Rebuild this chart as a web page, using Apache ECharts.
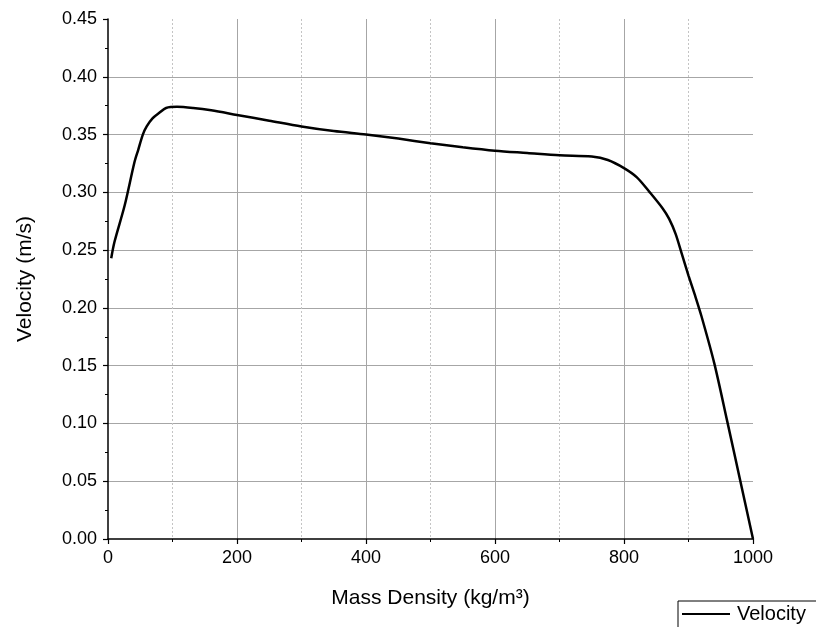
<!DOCTYPE html>
<html>
<head>
<meta charset="utf-8">
<script src="https://cdn.jsdelivr.net/npm/echarts@6/dist/echarts.min.js"></script>
<style>
html,body{margin:0;padding:0;background:#fff;}
#chart{width:816px;height:627px;}
</style>
</head>
<body>
<div id="chart"></div>
<script>
const densities = [5, 10, 26, 41, 47, 54, 60, 69, 80, 90, 107, 132, 160, 200, 250, 300, 350, 400, 450, 500, 550, 600, 650, 700, 750, 775, 800, 820, 840, 860, 870, 880, 890, 900, 910, 920, 940, 960, 980, 1000];
const velocities = [0.243, 0.257, 0.289, 0.326, 0.337, 0.350, 0.357, 0.364, 0.369, 0.373, 0.374, 0.373, 0.371, 0.367, 0.362, 0.357, 0.353, 0.350, 0.3465, 0.3425, 0.339, 0.336, 0.334, 0.332, 0.331, 0.328, 0.321, 0.313, 0.300, 0.286, 0.277, 0.264, 0.246, 0.228, 0.211, 0.193, 0.152, 0.102, 0.051, 0.000];
const seriesName = 'Velocity';
const xTitle = 'Mass Density (kg/m³)';
const yTitle = 'Velocity (m/s)';

const FONT = '"Liberation Sans", Arial, sans-serif';
const chart = echarts.init(document.getElementById('chart'), null, {renderer: 'canvas'});
chart.setOption({
  animation: false,
  backgroundColor: '#fff',
  grid: {left: 108, right: 63, top: 19, bottom: 88, containLabel: false},
  legend: {
    data: [{name: seriesName, icon: 'rect'}],
    left: 678, top: 601,
    orient: 'horizontal',
    itemWidth: 48, itemHeight: 2,
    itemGap: 10,
    padding: [3, 40, 20, 4],
    borderColor: '#000', borderWidth: 1,
    textStyle: {fontFamily: FONT, fontSize: 20, color: '#000', padding: [0,0,0,2]}
  },
  xAxis: {
    type: 'value', min: 0, max: 1000, interval: 200,
    name: xTitle, nameLocation: 'middle', nameGap: 49,
    nameTextStyle: {fontFamily: FONT, fontSize: 21, color: '#000'},
    axisLine: {show: true, onZero: false, lineStyle: {color: '#000', width: 1.5}},
    axisTick: {show: true, length: 5, lineStyle: {color: '#000', width: 1.2}},
    minorTick: {show: true, splitNumber: 2, length: 3, lineStyle: {color: '#000', width: 1}},
    axisLabel: {fontFamily: FONT, fontSize: 18, color: '#000', margin: 10, formatter: v => String(v)},
    splitLine: {show: true, showMinLine: false, showMaxLine: false, lineStyle: {color: '#a6a6a6', width: 1}},
    minorSplitLine: {show: true, lineStyle: {color: '#c4c4c4', width: 1, type: [2, 2]}}
  },
  yAxis: {
    type: 'value', min: 0, max: 0.45, interval: 0.05,
    name: yTitle, nameLocation: 'middle', nameGap: 72,
    nameTextStyle: {fontFamily: FONT, fontSize: 21, color: '#000'},
    axisLine: {show: true, onZero: false, lineStyle: {color: '#000', width: 1.5}},
    axisTick: {show: true, length: 5, lineStyle: {color: '#000', width: 1.2}},
    minorTick: {show: true, splitNumber: 2, length: 3, lineStyle: {color: '#000', width: 1}},
    axisLabel: {fontFamily: FONT, fontSize: 18, color: '#000', margin: 11, formatter: v => v.toFixed(2)},
    splitLine: {show: true, showMinLine: false, showMaxLine: false, lineStyle: {color: '#a6a6a6', width: 1}}
  },
  series: [{
    name: seriesName,
    type: 'line',
    data: densities.map((d, i) => [d, velocities[i]]),
    showSymbol: false, symbol: 'none',
    smooth: 0.3,
    itemStyle: {color: '#000'},
    lineStyle: {color: '#000', width: 2.5},
    clip: false
  }]
});
</script>
</body>
</html>
